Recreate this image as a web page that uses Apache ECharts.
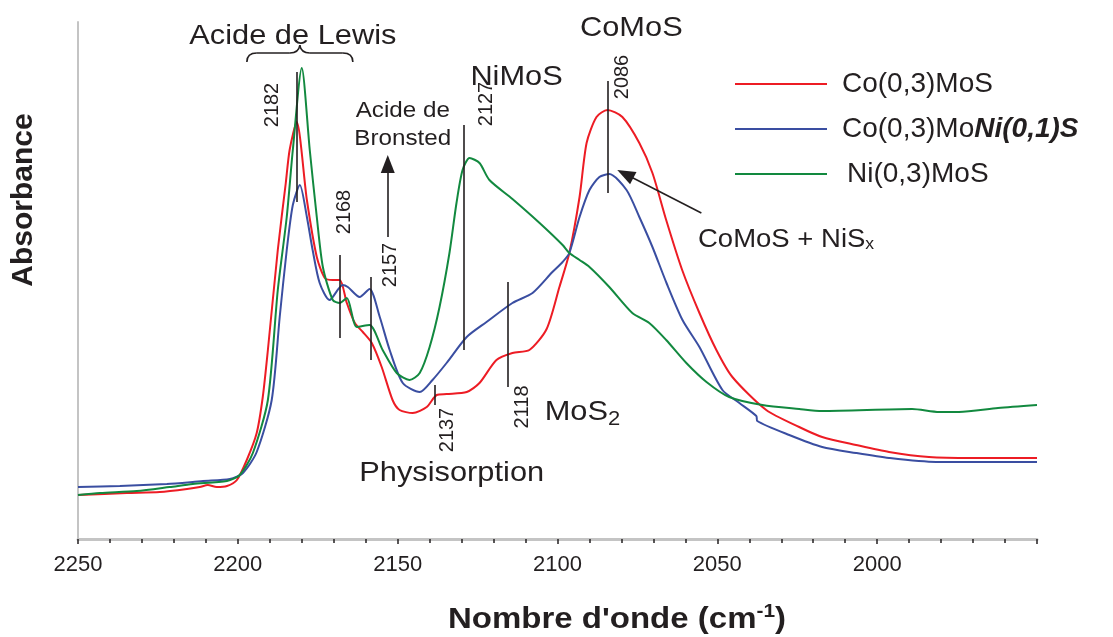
<!DOCTYPE html>
<html><head><meta charset="utf-8">
<script src="https://cdn.jsdelivr.net/npm/echarts@6/dist/echarts.min.js"></script>
<style>html,body{margin:0;padding:0;background:#fff}#c{width:1113px;height:637px}</style>
</head><body><div id="c"></div>
<script>
// ---------- data ----------
const seriesNames = ['Co(0,3)MoS', 'Co(0,3)MoNi(0,1)S', 'Ni(0,3)MoS'];
const xTicks = [2250, 2200, 2150, 2100, 2050, 2000];

// [wavenumber cm-1, absorbance (a.u.)]
const coMoS = [[2250,44],[2234.7,46],[2224.4,47],[2215.9,50],[2211.9,52],[2209.4,54],[2206.6,52],[2203.4,53],[2200.3,59],[2197.2,79],[2194.1,106],[2192.2,142],[2190.6,189],[2187.5,289],[2185,356],[2183.8,389],[2181.6,417],[2178.4,339],[2175.3,282],[2172.8,261],[2170.3,259],[2168.1,259],[2165.9,236],[2163.4,216],[2160.9,207],[2158.1,196],[2155,172],[2151.6,139],[2149.4,129],[2145.3,126],[2140.9,132],[2137.8,144],[2134.7,145],[2128.4,147],[2124.4,156],[2119.1,179],[2114.1,186],[2108.8,189],[2103.4,210],[2099.4,252],[2096.3,286],[2093.1,342],[2090.9,396],[2087.8,422],[2084.4,429],[2079.7,422],[2074.4,396],[2070.3,366],[2066,319],[2061,269],[2055.6,226],[2050.3,189],[2045.3,162],[2034.7,129],[2024.4,112],[2017.2,102],[2006.6,94],[1996.3,87],[1983.8,82],[1970.3,81],[1950,81]];

const coMoNiS = [[2250,52],[2236.9,53],[2222.2,55],[2214.1,57],[2210.9,58],[2202.5,60],[2198.4,66],[2194.1,87],[2189.4,139],[2186.9,222],[2184.7,289],[2182.8,334],[2180.6,354],[2178.4,322],[2176.6,289],[2174.4,256],[2171.3,239],[2167.2,254],[2165.6,252],[2161.9,242],[2158.8,250],[2155.6,222],[2152.5,189],[2148.4,156],[2143.1,147],[2139.1,159],[2134.7,176],[2128.4,202],[2122.2,217],[2114.1,236],[2107.8,246],[2101.6,267],[2098.4,277],[2096.3,286],[2093.1,322],[2090,349],[2086.9,362],[2083.8,365],[2078.4,349],[2074.4,322],[2070.3,292],[2065.9,256],[2060.9,219],[2055.6,192],[2048.4,149],[2043.1,136],[2037.8,123],[2037.5,118],[2027.5,104],[2017.2,92],[2006.6,86],[1996.3,81],[1981.6,77],[1950,77]];

const niMoS = [[2250,44],[2243.1,46],[2231.6,48],[2221.3,52],[2214.1,55],[2203.4,58],[2199.4,64],[2195.3,86],[2190.6,139],[2187.5,249],[2184.7,322],[2182.8,389],[2180,471],[2177.5,389],[2175.3,322],[2173.4,272],[2170.3,239],[2168.1,236],[2165.9,241],[2162.8,212],[2158.8,214],[2154.7,189],[2150.3,166],[2146.3,159],[2143.1,166],[2140,192],[2136.9,232],[2133.8,286],[2131.6,336],[2129.7,369],[2127.5,381],[2124.4,376],[2121.3,359],[2114.1,340],[2105.6,316],[2098.4,294],[2096.3,286],[2093.1,279],[2090,272],[2083.8,252],[2076.6,226],[2071.3,216],[2066,199],[2059.7,176],[2053.4,157],[2046.3,142],[2035.9,134],[2024.4,130],[2017.2,128],[1989.1,130],[1980.6,127],[1974.4,127],[1962.2,131],[1950,134]];

// annotation marker lines: [wavenumber, from, to]
const markers = [[2181.6,337,467],[2168,201,284],[2158.4,179,262],[2129.4,189,414],[2138.4,134,154],[2115.6,152,257],[2084.4,346,458]];
const markerText = ['2182','2168','2157','2127','2137','2118','2086'];
const markerTextAt = [[2189.1,434],[2166.6,327],[2152.2,274],[2122.2,435],[2134.4,109],[2110.9,132],[2079.7,462]];

// ---------- chart ----------
const FONT = '"Liberation Sans", Arial, Helvetica, sans-serif';
const INK = '#231f20';
const COLORS = ['#ed1c24', '#3a4ea1', '#12893f'];
const chart = echarts.init(document.getElementById('c'), null, {renderer: 'canvas'});

const lineSeries = [coMoS, coMoNiS, niMoS].map((d, i) => ({
  name: seriesNames[i], type: 'line', data: d, showSymbol: false, symbol: 'none',
  smooth: 0.25, color: COLORS[i], lineStyle: {color: COLORS[i], width: 2},
  silent: true
}));

const mlStyle = {color: INK, width: 1.6, type: 'solid'};
lineSeries.push({
  type: 'line', data: [], silent: true,
  markLine: {silent: true, symbol: ['none', 'none'], animation: false,
    lineStyle: mlStyle, label: {show: false}, emphasis: {disabled: true},
    data: markers.map(m => [{coord: [m[0], m[1]]}, {coord: [m[0], m[2]]}])}
});
lineSeries.push({
  type: 'line', data: [], silent: true,
  markLine: {silent: true, symbol: ['none', 'triangle'], symbolSize: [14, 18], animation: false,
    lineStyle: mlStyle, itemStyle: {color: INK}, label: {show: false}, emphasis: {disabled: true},
    data: [
      [{coord: [2153.1, 302]}, {coord: [2153.1, 375]}],
      [{coord: [2055, 326]}, {coord: [2078.8, 365]}]
    ]}
});

const txt = {fontFamily: FONT, fontSize: 28, color: INK, lineHeight: 30};
chart.setOption({
  animation: false,
  backgroundColor: '#ffffff',
  grid: {left: 78, right: 76, top: 22, bottom: 98, containLabel: false},
  legend: {
    data: seriesNames, orient: 'vertical', left: 735, top: 69, padding: 0,
    itemWidth: 92, itemHeight: 2, icon: 'rect', itemGap: 15, selectedMode: false,
    textStyle: Object.assign({}, txt, {rich: {
      n: Object.assign({}, txt, {padding: [0, 0, 0, 10]}),
      g: Object.assign({}, txt, {padding: [0, 0, 0, 15]}),
      b: Object.assign({}, txt, {fontWeight: 'bold', fontStyle: 'italic'})
    }}),
    formatter: name => name === seriesNames[1] ? '{n|Co(0,3)Mo}{b|Ni(0,1)S}'
      : (name === seriesNames[2] ? '{g|' + name + '}' : '{n|' + name + '}')
  },
  xAxis: {
    type: 'value', inverse: true, min: 1950, max: 2250, interval: 50,
    axisLine: {show: true, onZero: false, lineStyle: {color: '#c4c4c4', width: 3}},
    axisTick: {show: true, length: 5, lineStyle: {color: INK, width: 1.5}},
    minorTick: {show: true, splitNumber: 5, length: 4, lineStyle: {color: INK, width: 1.5}},
    splitLine: {show: false}, minorSplitLine: {show: false},
    axisLabel: {fontFamily: FONT, fontSize: 22, color: INK, margin: 15,
      formatter: v => xTicks.indexOf(v) >= 0 ? String(v) : ''}
  },
  yAxis: {
    type: 'value', min: 0, max: 517,
    axisLine: {show: true, onZero: false, lineStyle: {color: '#c4c4c4', width: 2}},
    axisTick: {show: false}, axisLabel: {show: false}, splitLine: {show: false}
  },
  series: lineSeries
});

// ---------- annotations (anchored in data coordinates) ----------
const P = (w, v) => chart.convertToPixel({xAxisIndex: 0, yAxisIndex: 0}, [w, v]);
const SX = 1.1;
function label(text, w, v, size, lh) {
  const p = P(w, v);
  return {type: 'text', x: p[0], y: p[1], scaleX: SX, silent: true, z: 10,
    style: {text: text, fontFamily: FONT, fontSize: size, lineHeight: lh || size, fill: INK, align: 'center', verticalAlign: 'middle'}};
}
const g = [];
g.push(label('Acide de Lewis', 2182.8, 503, 28));
g.push(label('Acide de\nBronsted', 2148.4, 414, 22, 28));
g.push(label('NiMoS', 2112.8, 462, 28));
g.push(label('CoMoS', 2076.9, 511, 28));
g.push(label('Physisorption', 2133.1, 66, 28));

const pM = P(2092.2, 127);
g.push({type: 'text', x: pM[0], y: pM[1], scaleX: SX, silent: true, z: 10,
  style: {text: '{a|MoS}{s|2}', align: 'center', verticalAlign: 'middle', fill: INK,
    rich: {a: {fontFamily: FONT, fontSize: 28, fill: INK}, s: {fontFamily: FONT, fontSize: 20, fill: INK, padding: [14, 0, 0, 0]}}}});
const pC = P(2028.5, 299);
g.push({type: 'text', x: pC[0], y: pC[1], scaleX: SX, silent: true, z: 10,
  style: {text: '{a|CoMoS + NiS}{s|x}', align: 'center', verticalAlign: 'middle', fill: INK,
    rich: {a: {fontFamily: FONT, fontSize: 25, fill: INK}, s: {fontFamily: FONT, fontSize: 16, fill: INK, padding: [10, 0, 0, 0]}}}});

// curly brace under "Acide de Lewis" (cusp anchored in data coords)
const pb = P(2180.6, 494);
const bx = pb[0], by = pb[1];
const braceStyle = {stroke: INK, fill: null, lineWidth: 1.6};
const curve = (x1, y1, cx, cy, x2, y2) => ({type: 'bezierCurve', silent: true, z: 10,
  shape: {x1: x1, y1: y1, cpx1: cx, cpy1: cy, x2: x2, y2: y2}, style: braceStyle});
g.push(curve(bx - 53, by + 17, bx - 53, by + 8, bx - 43, by + 8));
g.push({type: 'line', silent: true, z: 10, shape: {x1: bx - 43, y1: by + 8, x2: bx - 10, y2: by + 8}, style: braceStyle});
g.push(curve(bx - 10, by + 8, bx - 1, by + 8, bx, by));
g.push(curve(bx, by, bx + 1, by + 8, bx + 10, by + 8));
g.push({type: 'line', silent: true, z: 10, shape: {x1: bx + 10, y1: by + 8, x2: bx + 43, y2: by + 8}, style: braceStyle});
g.push(curve(bx + 43, by + 8, bx + 53, by + 8, bx + 53, by + 17));

markerText.forEach((t, i) => {
  const p = P(markerTextAt[i][0], markerTextAt[i][1]);
  g.push({type: 'text', x: p[0], y: p[1], rotation: Math.PI / 2, silent: true, z: 10,
    style: {text: t, fontFamily: FONT, fontSize: 20, fill: INK, align: 'center', verticalAlign: 'middle'}});
});
// axis titles
g.push({type: 'text', x: 617, y: 620, scaleX: SX, silent: true, z: 10,
  style: {text: "{a|Nombre d'onde (cm}{s|-1}{a|)}", align: 'center', verticalAlign: 'middle', fill: INK,
    rich: {a: {fontFamily: FONT, fontSize: 30, fontWeight: 'bold', fill: INK},
           s: {fontFamily: FONT, fontSize: 19, fontWeight: 'bold', fill: INK, padding: [0, 0, 16, 0]}}}});
g.push({type: 'text', x: 24, y: 200, rotation: Math.PI / 2, silent: true, z: 10,
  style: {text: 'Absorbance', fontFamily: FONT, fontSize: 30, fontWeight: 'bold', fill: INK, align: 'center', verticalAlign: 'middle'}});

chart.setOption({graphic: g});
</script></body></html>
